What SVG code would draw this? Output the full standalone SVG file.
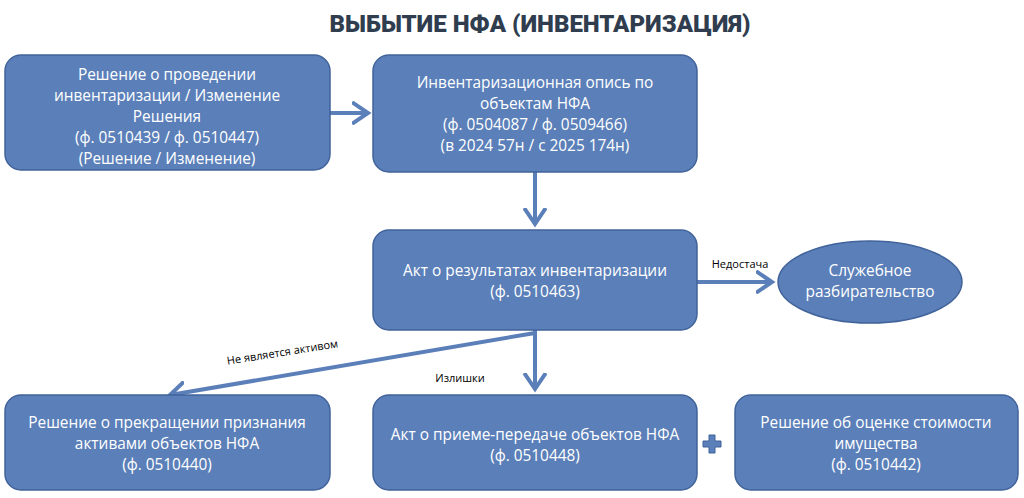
<svg xmlns="http://www.w3.org/2000/svg" width="1024" height="498" viewBox="0 0 1024 498">
<defs>
<style>
.n{fill:#5b7fb9;stroke:#41639b;stroke-width:1.5}
.t{fill:#fff;font-family:"Open Sans","Liberation Sans",sans-serif;font-size:15.4px;text-anchor:middle}
.l{fill:#000;font-family:"Open Sans","Liberation Sans",sans-serif;font-size:11px;text-anchor:middle}
.c{stroke:#5b7fb9;stroke-width:4;fill:none;marker-end:url(#a)}
</style>
<marker id="a" markerWidth="6" markerHeight="6" refX="4" refY="3" orient="auto" markerUnits="strokeWidth"><path d="M0,0.3 L4,3 L0,5.7" fill="none" stroke="#5b7fb9" stroke-width="1"/></marker>
</defs>
<rect width="1024" height="498" fill="#fff"/>
<text x="540" y="32" font-family="Roboto,'Liberation Sans',sans-serif" font-weight="900" font-size="24" fill="#2f3d4f" text-anchor="middle">ВЫБЫТИЕ НФА (ИНВЕНТАРИЗАЦИЯ)</text>
<g id="connectors">
<path class="c" d="M330,113 H368"/>
<path class="c" d="M535,172 V224"/>
<path class="c" d="M697,282 H772"/>
<path class="c" d="M535,330 V389"/>
<path class="c" d="M535,333 L170,395"/>
<text class="l" transform="translate(283,356) rotate(-9)">Не является активом</text>
<text class="l" x="460" y="382">Излишки</text>
<text class="l" x="740" y="268">Недостача</text>
</g>
<g id="n1"><rect class="n" x="5" y="55" width="325" height="115" rx="16"/>
<text class="t" x="167" y="80">Решение о проведении</text><text class="t" x="167" y="101">инвентаризации / Изменение</text><text class="t" x="167" y="122">Решения</text><text class="t" x="167" y="143">(ф. 0510439 / ф. 0510447)</text><text class="t" x="167" y="164">(Решение / Изменение)</text></g>
<g id="n2"><rect class="n" x="373" y="55" width="324" height="117" rx="16"/>
<text class="t" x="535" y="88">Инвентаризационная опись по</text><text class="t" x="535" y="109">объектам НФА</text><text class="t" x="535" y="130">(ф. 0504087 / ф. 0509466)</text><text class="t" x="535" y="151">(в 2024 57н / с 2025 174н)</text></g>
<g id="n3"><rect class="n" x="373" y="230" width="324" height="100" rx="16"/>
<text class="t" x="535" y="276">Акт о результатах инвентаризации</text><text class="t" x="535" y="297">(ф. 0510463)</text></g>
<g id="n4"><ellipse class="n" cx="870" cy="282" rx="92" ry="41"/>
<text class="t" x="870" y="276">Служебное</text><text class="t" x="870" y="297">разбирательство</text></g>
<g id="n5"><rect class="n" x="5" y="395" width="325" height="95" rx="16"/>
<text class="t" x="167" y="428">Решение о прекращении признания</text><text class="t" x="167" y="449">активами объектов НФА</text><text class="t" x="167" y="470">(ф. 0510440)</text></g>
<g id="n6"><rect class="n" x="373" y="395" width="324" height="95" rx="16"/>
<text class="t" x="535" y="440">Акт о приеме-передаче объектов НФА</text><text class="t" x="535" y="461">(ф. 0510448)</text></g>
<g id="plus"><path d="M709,438 h6 v-6 h6 v6 h6 v6 h-6 v6 h-6 v-6 h-6 z" transform="translate(-6,3)" fill="#5b7fb9" stroke="#41639b"/></g>
<g id="n7"><rect class="n" x="735" y="395" width="283" height="95" rx="16"/>
<text class="t" x="876" y="428">Решение об оценке стоимости</text><text class="t" x="876" y="449">имущества</text><text class="t" x="876" y="470">(ф. 0510442)</text></g>
</svg>
